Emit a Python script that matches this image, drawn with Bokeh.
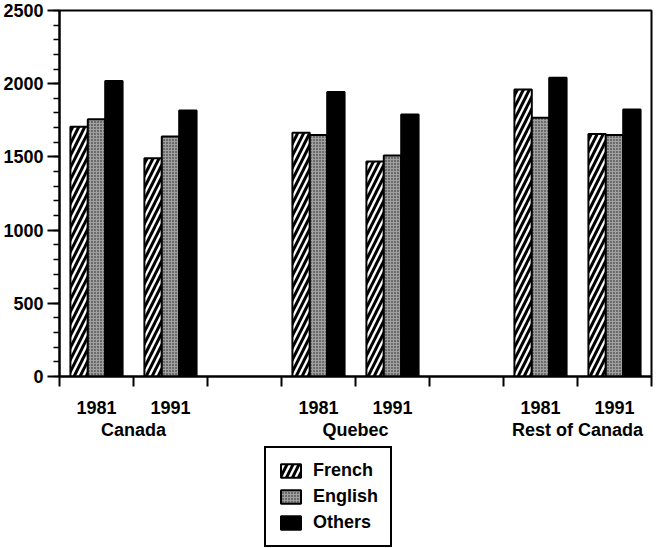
from bokeh.plotting import figure
from bokeh.layouts import column
from bokeh.models import (Range1d, FixedTicker, Legend, LegendItem, LinearAxis,
                          ColumnDataSource)
from bokeh.transform import dodge
from bokeh.embed import file_html
from bokeh.resources import INLINE

# ---- data -------------------------------------------------------------
regions = ["Canada", "Quebec", "Rest of Canada"]
years = ["1981", "1991"]
series = ["French", "English", "Others"]
french = [1706, 1491, 1665, 1468, 1960, 1656]
english = [1758, 1640, 1649, 1509, 1767, 1649]
others = [2019, 1817, 1944, 1790, 2040, 1824]
y_ticks = [0, 500, 1000, 1500, 2000, 2500]
y_minor = list(range(0, 2501, 100))

# slot layout: each region takes 2 year slots + 1 empty slot
slot_ticks = list(range(9))
centers = [3 * i + j + 0.5 for i in range(len(regions)) for j in range(len(years))]
year_labels = [y for _ in regions for y in years]
group_centers = [3 * i + 1 for i in range(len(regions))]

FONT = "Liberation Sans"

STYLES = [
    dict(fill_color="white", line_color="black", line_width=2,
         hatch_pattern="right_diagonal_line", hatch_color="black",
         hatch_scale=12, hatch_weight=3),
    dict(fill_color="#a0a0a0", line_color="black", line_width=2,
         hatch_pattern="dot", hatch_color="#1a1a1a",
         hatch_scale=3, hatch_weight=1),
    dict(fill_color="black", line_color="black", line_width=2),
]

p = figure(frame_width=592, frame_height=366,
           x_range=Range1d(0, 8), y_range=Range1d(0, 2500),
           output_backend="svg", toolbar_location=None,
           min_border_left=59, min_border_right=4,
           min_border_top=10, min_border_bottom=0)

src = ColumnDataSource(dict(x=centers, French=french, English=english, Others=others))

bw = 0.235
for k, name in enumerate(series):
    p.vbar(x=dodge("x", (k - 1) * bw, range=p.x_range), top=name, width=bw,
           source=src, **STYLES[k])

# ---- axes ---------------------------------------------------------------
p.xgrid.visible = False
p.ygrid.visible = False
p.outline_line_color = "black"
p.outline_line_width = 2

p.yaxis.ticker = FixedTicker(ticks=y_ticks, minor_ticks=y_minor)
p.yaxis.axis_line_width = 2
p.yaxis.major_tick_out = 12
p.yaxis.major_tick_in = 0
p.yaxis.major_tick_line_width = 2
p.yaxis.minor_tick_out = 6
p.yaxis.minor_tick_in = 0
p.yaxis.minor_tick_line_width = 1.5
p.yaxis.major_label_standoff = 4
p.yaxis.major_label_text_font = FONT
p.yaxis.major_label_text_font_style = "bold"
p.yaxis.major_label_text_font_size = "18px"
p.yaxis.major_label_text_color = "black"

p.xaxis.ticker = FixedTicker(ticks=slot_ticks)
p.xaxis.major_label_overrides = {t: "" for t in slot_ticks}
p.xaxis.major_label_standoff = 0
p.xaxis.major_label_text_font_size = "1px"
p.xaxis.axis_line_width = 2
p.xaxis.major_tick_out = 10
p.xaxis.major_tick_in = 0
p.xaxis.major_tick_line_width = 2
p.xaxis.minor_tick_line_color = None


def label_axis(ticks, labels, standoff):
    ax = LinearAxis(ticker=FixedTicker(ticks=ticks),
                    major_label_overrides=dict(zip(ticks, labels)),
                    axis_line_color=None, major_tick_line_color=None,
                    minor_tick_line_color=None, major_tick_out=0, major_tick_in=0,
                    major_label_standoff=standoff,
                    major_label_text_font=FONT, major_label_text_font_style="bold",
                    major_label_text_font_size="18px", major_label_text_color="black")
    p.add_layout(ax, "below")
    return ax


label_axis(centers, year_labels, 14)
label_axis(group_centers, regions, 3)

# ---- legend (own panel below the chart) -------------------------------------------
q = figure(width=655, height=110, x_range=Range1d(0, 1), y_range=Range1d(0, 1),
           output_backend="svg", toolbar_location=None,
           min_border=0, outline_line_color=None)
q.axis.visible = False
q.grid.visible = False
items = []
for k, name in enumerate(series):
    # hidden copies of the bar series, used only to draw the legend keys
    r = q.vbar(x="x", top=name, width=0.1, source=src, visible=False, **STYLES[k])
    items.append(LegendItem(label=name, renderers=[r]))

legend = Legend(items=items, location=(205, 5), orientation="vertical",
                border_line_color="black", border_line_width=2, border_line_alpha=1,
                background_fill_color="white", background_fill_alpha=1,
                inactive_fill_alpha=0,
                padding=12, spacing=5, margin=0,
                glyph_width=25, glyph_height=17, label_standoff=10,
                label_text_font=FONT, label_text_font_style="bold",
                label_text_font_size="18px", label_text_color="black")
q.add_layout(legend, "center")

layout = column(p, q, spacing=0)
open("out.html", "w").write(file_html(layout, INLINE))
